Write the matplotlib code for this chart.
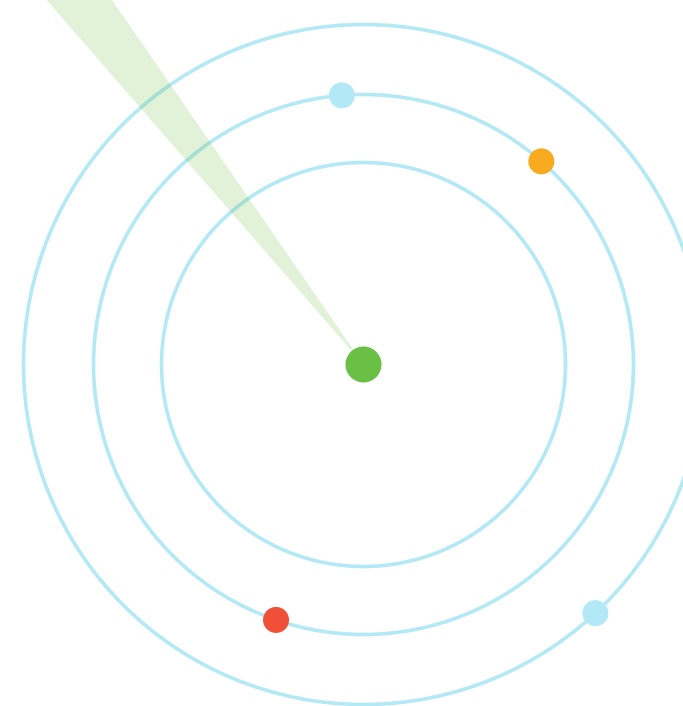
import matplotlib.pyplot as plt
import numpy as np
from matplotlib.patches import Circle, Wedge

# canvas in pixel units, y pointing up
W, H = 683, 706
center = (363.5, H - 364.5)

ring_radii = [202, 270, 340]
ring_color = "#b3e8f5"

# dots: angle in degrees (counter-clockwise from east), ring index, colour
dot_angles = [94.6, 48.8, 251.1, -47.0]
dot_rings = [1, 1, 1, 2]
dot_colors = ["#b3e9f6", "#f8aa1e", "#f04f38", "#b3e9f6"]
dot_radius = 13

sweep_start = 124.6
sweep_end = 131.0
green = "#6abf45"

fig = plt.figure(figsize=(W / 100, H / 100), dpi=100)
ax = fig.add_axes([0, 0, 1, 1])
ax.set_xlim(0, W)
ax.set_ylim(0, H)
ax.set_aspect("equal")
ax.axis("off")

for r in ring_radii:
    ax.add_patch(Circle(center, r, fill=False, edgecolor=ring_color, linewidth=2.6, zorder=1))

# radar sweep
ax.add_patch(Wedge(center, 900, sweep_start, sweep_end, facecolor=green, alpha=0.2,
                   edgecolor="none", zorder=2))

for ang, ring, col in zip(dot_angles, dot_rings, dot_colors):
    r = ring_radii[ring]
    x = center[0] + r * np.cos(np.radians(ang))
    y = center[1] + r * np.sin(np.radians(ang))
    ax.add_patch(Circle((x, y), dot_radius, facecolor=col, edgecolor="none", zorder=3))

ax.add_patch(Circle(center, 18, facecolor=green, edgecolor="none", zorder=3))

fig.savefig("out.png", dpi=100)
